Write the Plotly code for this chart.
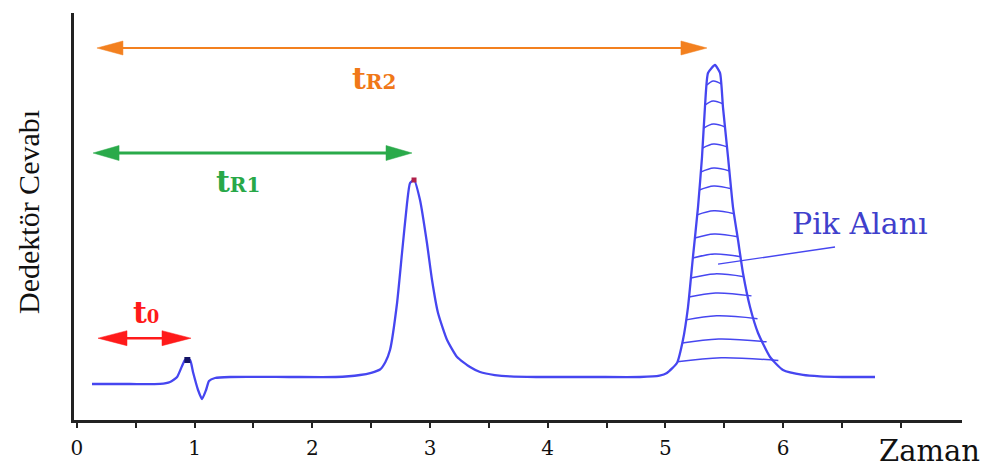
import numpy as np
import plotly.graph_objects as go

# ---------------- data ----------------
time_min = [0.128, 0.450, 0.706, 0.791, 0.851, 0.893, 0.918, 0.961, 0.986, 1.029, 1.063, 1.097,
            1.122, 1.173, 1.301, 1.800, 2.200, 2.405, 2.500, 2.575, 2.620, 2.660, 2.720, 2.762,
            2.805, 2.830, 2.864, 2.915, 2.974, 3.017, 3.068, 3.145, 3.230, 3.340, 3.425, 3.550,
            3.680, 3.900, 4.400, 4.784, 4.950, 5.013, 5.098, 5.149, 5.192, 5.234, 5.277, 5.311,
            5.336, 5.362, 5.421, 5.464, 5.489, 5.532, 5.574, 5.617, 5.659, 5.719, 5.787, 5.889,
            5.999, 6.169, 6.313, 6.500, 6.781]
detector_response = [8.85, 8.85, 8.85, 9.34, 10.57, 13.27, 14.74, 14.74, 11.79, 7.37, 5.16, 7.37,
                     9.58, 10.32, 10.57, 10.57, 10.57, 11.06, 11.60, 12.40, 14.20, 17.20, 28.75, 41.03,
                     53.32, 58.23, 58.97, 54.05, 43.49, 34.40, 26.29, 19.66, 15.48, 13.02, 11.80, 11.05,
                     10.70, 10.57, 10.57, 10.57, 10.90, 11.55, 14.00, 19.66, 27.76, 40.05, 52.33, 64.62,
                     76.90, 85.26, 87.22, 85.26, 76.90, 64.62, 52.33, 44.23, 36.12, 27.76, 21.38, 15.48,
                     12.29, 11.06, 10.70, 10.57, 10.57]

# hatch levels inside the second peak (peak area)
hatch_levels = [82.3, 77.4, 71.7, 66.8, 60.9, 56.5, 50.4, 44.7, 39.8, 34.9, 30.2, 24.6, 18.9, 14.3]

# retention-time arrows
arrow_labels = ["t<span style='font-size:20px'>R2</span>",
                "t<span style='font-size:20px'>R1</span>",
                "t<span style='font-size:18px'>0</span>"]
arrow_start = [0.170, 0.137, 0.179]
arrow_end = [5.353, 2.847, 0.969]
arrow_level = [91.4, 65.6, 20.1]
arrow_label_x = [2.524, 1.369, 0.587]
arrow_label_y = [84.0, 58.5, 26.3]
arrow_colors = ["#f3801f", "#2aaa4a", "#ff1a1a"]
arrow_text_colors = ["#f07818", "#28a848", "#ff1a1a"]

tick_values = [0, 1, 2, 3, 4, 5, 6]
minor_tick_values = [0.5, 1.5, 2.5, 3.5, 4.5, 5.5, 6.5, 7.0]

pik_leader = {"x": [5.447, 6.441], "y": [38.3, 42.5]}
pik_label = {"x": 6.653, "y": 48.4, "text": "Pik Alanı"}

# ---------------- layout geometry ----------------
W, H = 997, 470
ML, MR, MT, MB = 74, 35, 13, 50
x_range = [-0.025, 7.52]
y_range = [0, 100]
px_x = (W - ML - MR) / (x_range[1] - x_range[0])
px_y = (H - MT - MB) / (y_range[1] - y_range[0])

LINE_BLUE = "#4646f0"
SERIF = "DejaVu Serif"

fig = go.Figure()

# chromatogram
fig.add_trace(go.Scatter(x=time_min, y=detector_response, mode="lines",
                         line=dict(color=LINE_BLUE, width=2.3, shape="spline", smoothing=0.5),
                         hoverinfo="skip", showlegend=False))

# hatch lines inside peak 2
t = np.array(time_min)
s = np.array(detector_response)
region = (t > 4.8) & (t < 6.4)
tp, sp = t[region], s[region]
ipk = int(np.argmax(sp))
tl, sl = tp[:ipk + 1], sp[:ipk + 1]
tr, sr = tp[ipk:], sp[ipk:]
for h in hatch_levels:
    xl = float(np.interp(h, sl, tl))
    xr = float(np.interp(h, sr[::-1], tr[::-1]))
    xm = xl + 0.45 * (xr - xl)
    ext = 0.03 if h < 32 else 0.0
    fig.add_trace(go.Scatter(x=[xl, xm, xr + ext], y=[h, h + 1.0, h + 0.3], mode="lines",
                             line=dict(color=LINE_BLUE, width=1.5, shape="spline"),
                             hoverinfo="skip", showlegend=False))

# small dark blobs at tops of first two peaks
m0 = (t < 1.3)
i0 = int(np.argmax(np.where(m0, s, -1)))
m1 = (t > 2.0) & (t < 4.0)
i1 = int(np.argmax(np.where(m1, s, -1)))
fig.add_trace(go.Scatter(x=[t[i0] + 0.02], y=[s[i0]], mode="markers",
                         marker=dict(color="#141466", size=6, symbol="square"),
                         hoverinfo="skip", showlegend=False))
fig.add_trace(go.Scatter(x=[t[i1]], y=[s[i1]], mode="markers",
                         marker=dict(color="#b0204a", size=5, symbol="square"),
                         hoverinfo="skip", showlegend=False))

# leader line for "Pik Alanı"
fig.add_trace(go.Scatter(x=pik_leader["x"], y=pik_leader["y"], mode="lines",
                         line=dict(color=LINE_BLUE, width=1.4),
                         hoverinfo="skip", showlegend=False))

# arrows (double-headed)
shapes = []
head_len_px = [26, 26, 29]
head_hw_px = [7, 7.5, 7.5]
line_w = [2, 3, 2.5]
for x0, x1, y, c, hl, hw, lw in zip(arrow_start, arrow_end, arrow_level, arrow_colors,
                                     head_len_px, head_hw_px, line_w):
    dx = hl / px_x
    dy = hw / px_y
    shapes.append(dict(type="line", xref="x", yref="y", x0=x0 + dx * 0.8, x1=x1 - dx * 0.8,
                       y0=y, y1=y, line=dict(color=c, width=lw)))
    shapes.append(dict(type="path", xref="x", yref="y",
                       path=f"M{x0},{y} L{x0 + dx},{y + dy} L{x0 + dx},{y - dy} Z",
                       fillcolor=c, line=dict(color=c, width=0.5)))
    shapes.append(dict(type="path", xref="x", yref="y",
                       path=f"M{x1},{y} L{x1 - dx},{y + dy} L{x1 - dx},{y - dy} Z",
                       fillcolor=c, line=dict(color=c, width=0.5)))

annotations = []
for lbl, lx, ly, c in zip(arrow_labels, arrow_label_x, arrow_label_y, arrow_text_colors):
    annotations.append(dict(x=lx, y=ly, xref="x", yref="y", text=f"<b>{lbl}</b>", showarrow=False,
                            xanchor="center", yanchor="middle",
                            font=dict(family=SERIF, size=30, color=c)))

annotations.append(dict(x=pik_label["x"], y=pik_label["y"], xref="x", yref="y",
                        text=pik_label["text"], showarrow=False,
                        xanchor="center", yanchor="middle",
                        font=dict(family=SERIF, size=30, color="#4040cc")))

annotations.append(dict(x=(929 - ML) / (W - ML - MR), y=(H - MB - 451) / (H - MT - MB),
                        xref="paper", yref="paper", text="Zaman", showarrow=False,
                        xanchor="center", yanchor="middle",
                        font=dict(family=SERIF, size=29, color="#111111")))

annotations.append(dict(x=(28 - ML) / (W - ML - MR), y=(H - MB - 212) / (H - MT - MB),
                        xref="paper", yref="paper", text="Dedektör Cevabı", showarrow=False,
                        xanchor="center", yanchor="middle", textangle=-90,
                        font=dict(family="Liberation Serif", size=30, color="#111111")))

fig.update_layout(
    width=W, height=H,
    margin=dict(l=ML, r=MR, t=MT, b=MB, autoexpand=False),
    paper_bgcolor="white", plot_bgcolor="white",
    shapes=shapes, annotations=annotations,
    xaxis=dict(range=x_range, showgrid=False, zeroline=False, automargin=False,
               showline=True, linecolor="#222222", linewidth=2.5,
               tickvals=tick_values, ticktext=[str(v) for v in tick_values],
               ticks="outside", ticklen=5, tickwidth=2, tickcolor="#222222",
               minor=dict(tickvals=minor_tick_values, ticks="outside", ticklen=5,
                          tickwidth=2, tickcolor="#222222"),
               ticklabelstandoff=3,
               tickfont=dict(family=SERIF, size=20, color="#111111")),
    yaxis=dict(range=y_range, showgrid=False, zeroline=False, automargin=False,
               showline=True, linecolor="#222222", linewidth=2.5,
               showticklabels=False, ticks=""),
)

fig.write_html("out.html")
